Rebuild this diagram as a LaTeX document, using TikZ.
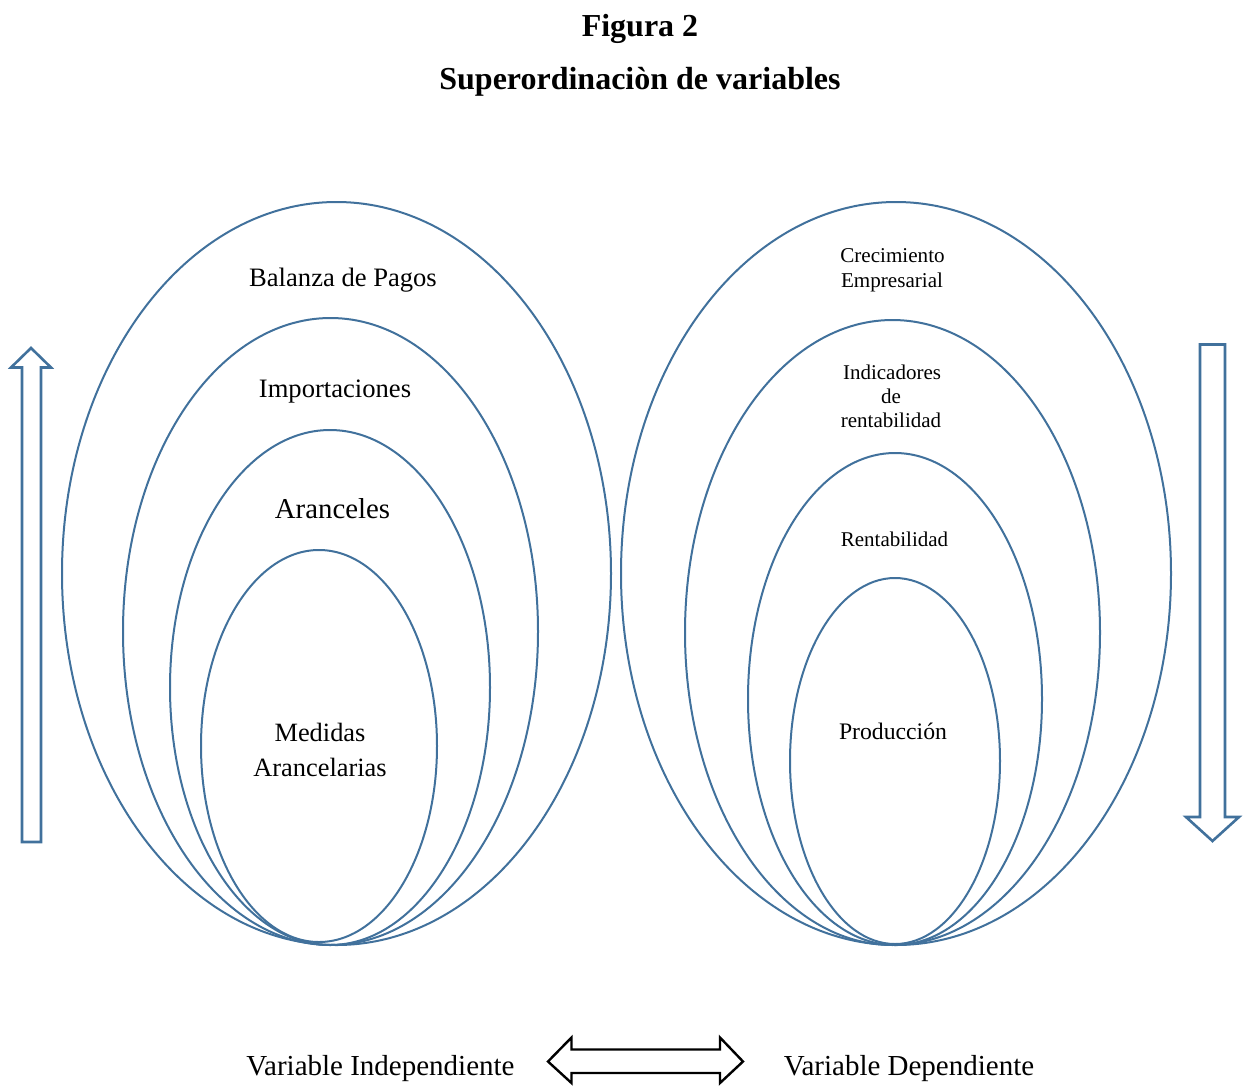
\documentclass[tikz,border=0pt]{standalone}
\usepackage{fontspec}
\setmainfont{Liberation Serif}
\definecolor{ovalblue}{RGB}{65,113,156}
\begin{document}
\begin{tikzpicture}[x=1pt,y=-1pt,
  oval/.style={draw=ovalblue,line width=2pt},
  blockarrow/.style={draw=ovalblue,line width=2.6pt,fill=white,line join=miter},
  dblarrow/.style={draw=black,line width=2.4pt,fill=white,line join=miter},
  lbl/.style={inner sep=0pt,anchor=base},
  title/.style={inner sep=0pt,anchor=base,font=\fontsize{32}{36}\selectfont\bfseries}]
\useasboundingbox (0,0) rectangle (1243,1085);
% titles
\node[title] (t1) at (640,36) {Figura 2};
\node[title] (t2) at (640,89) {Superordinaciòn de variables};
% left ovals
\draw[oval] (336.5,573.5) ellipse [x radius=274.5, y radius=371.5];
\draw[oval] (330.5,631.5) ellipse [x radius=207.5, y radius=313.5];
\draw[oval] (330,687.5) ellipse [x radius=160, y radius=257.5];
\draw[oval] (319,746) ellipse [x radius=118, y radius=196];
% right ovals
\draw[oval] (896,573.5) ellipse [x radius=275, y radius=371.5];
\draw[oval] (892.5,632.5) ellipse [x radius=207.5, y radius=312.5];
\draw[oval] (895,699) ellipse [x radius=147, y radius=246];
\draw[oval] (895,761) ellipse [x radius=105, y radius=183];
% left labels
\node[lbl,font=\fontsize{26.6}{30}\selectfont] (bal) at (343,286) {Balanza de Pagos};
\node[lbl,font=\fontsize{26.6}{30}\selectfont] (imp) at (335,397) {Importaciones};
\node[lbl,font=\fontsize{28.8}{32}\selectfont] (ara) at (332.5,518) {Aranceles};
\node[lbl,font=\fontsize{26.4}{30}\selectfont] (med1) at (320,741) {Medidas};
\node[lbl,font=\fontsize{26.4}{30}\selectfont] (med2) at (320,776) {Arancelarias};
% right labels
\node[lbl,font=\fontsize{21.1}{24}\selectfont] (cre1) at (892.5,262.5) {Crecimiento};
\node[lbl,font=\fontsize{21.1}{24}\selectfont] (cre2) at (892,287.5) {Empresarial};
\node[lbl,font=\fontsize{21}{24}\selectfont] (ind1) at (892,379.5) {Indicadores};
\node[lbl,font=\fontsize{21}{24}\selectfont] (ind2) at (891,403.5) {de};
\node[lbl,font=\fontsize{21}{24}\selectfont] (ind3) at (891,427.5) {rentabilidad};
\node[lbl,font=\fontsize{21}{24}\selectfont] (ren) at (894.5,546.5) {Rentabilidad};
\node[lbl,font=\fontsize{23.7}{27}\selectfont] (pro) at (893,739) {Producción};
% up arrow (left)
\draw[blockarrow] (22,842) -- (22,367.5) -- (11,367.5) -- (31,348) -- (51,367.5) -- (41,367.5) -- (41,842) -- cycle;
% down arrow (right)
\draw[blockarrow] (1200,344.5) -- (1200,817) -- (1186,817) -- (1212.5,841) -- (1239,817) -- (1225,817) -- (1225,344.5) -- cycle;
% bottom labels and double arrow
\node[lbl,font=\fontsize{29}{32}\selectfont] (vi) at (380.5,1075) {Variable Independiente};
\node[lbl,font=\fontsize{29}{32}\selectfont] (vd) at (909,1075) {Variable Dependiente};
\draw[dblarrow] (548,1061.5) -- (571.5,1037.5) -- (571.5,1049.5) -- (720,1049.5) -- (720,1037.5) -- (743,1061.5) -- (720,1083) -- (720,1073) -- (571.5,1073) -- (571.5,1083) -- cycle;
\end{tikzpicture}
\end{document}
